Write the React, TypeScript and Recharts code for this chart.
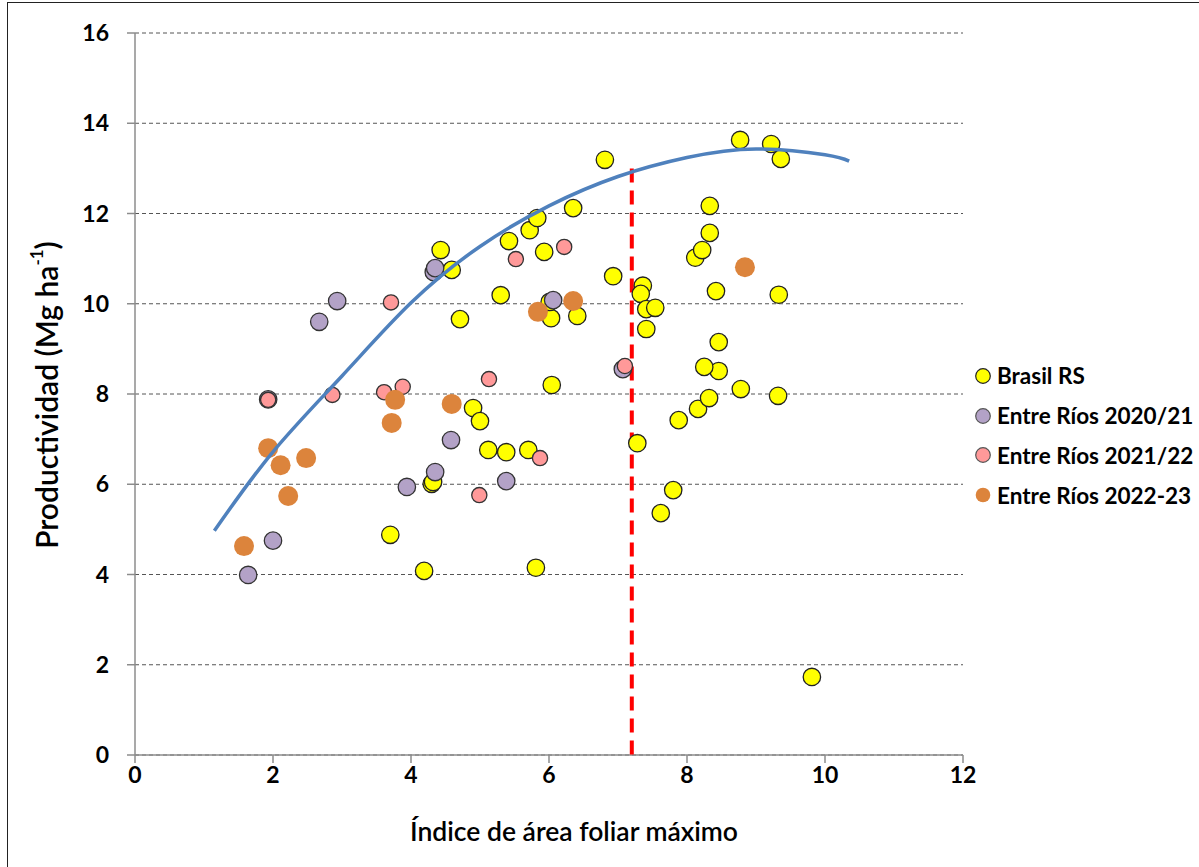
import React from 'react';
import { ScatterChart, Scatter, XAxis, YAxis, CartesianGrid } from 'recharts';

// Brasil RS
const brasilRS = [
  { x: 4.43, y: 11.19 }, { x: 4.59, y: 10.75 }, { x: 4.71, y: 9.66 }, { x: 4.30, y: 6.01 },
  { x: 3.70, y: 4.88 }, { x: 4.19, y: 4.08 }, { x: 4.90, y: 7.69 }, { x: 5.00, y: 7.40 },
  { x: 5.12, y: 6.76 }, { x: 5.38, y: 6.71 }, { x: 5.70, y: 6.76 }, { x: 5.30, y: 10.19 },
  { x: 5.42, y: 11.39 }, { x: 5.72, y: 11.63 }, { x: 5.83, y: 11.90 }, { x: 5.93, y: 11.15 },
  { x: 6.35, y: 12.12 }, { x: 6.03, y: 9.68 }, { x: 6.41, y: 9.73 }, { x: 6.04, y: 8.20 },
  { x: 5.81, y: 4.15 }, { x: 6.81, y: 13.19 }, { x: 6.93, y: 10.61 }, { x: 7.36, y: 10.40 },
  { x: 7.33, y: 10.22 }, { x: 7.41, y: 9.88 }, { x: 7.54, y: 9.91 }, { x: 7.41, y: 9.44 },
  { x: 7.28, y: 6.91 }, { x: 7.80, y: 5.87 }, { x: 7.62, y: 5.36 }, { x: 7.88, y: 7.42 },
  { x: 8.16, y: 7.67 }, { x: 8.32, y: 7.91 }, { x: 8.46, y: 8.51 }, { x: 8.25, y: 8.60 },
  { x: 8.46, y: 9.15 }, { x: 8.42, y: 10.28 }, { x: 8.12, y: 11.02 }, { x: 8.22, y: 11.19 },
  { x: 8.33, y: 11.57 }, { x: 8.33, y: 12.17 }, { x: 8.78, y: 8.11 }, { x: 9.32, y: 7.96 },
  { x: 9.33, y: 10.20 }, { x: 8.77, y: 13.63 }, { x: 9.22, y: 13.54 }, { x: 9.36, y: 13.21 },
  { x: 9.81, y: 1.73 }, { x: 6.01, y: 10.04 }, { x: 4.32, y: 6.05 },
];

// Entre Ríos 2020/21
const entreRios2021 = [
  { x: 1.64, y: 3.99 }, { x: 2.00, y: 4.75 }, { x: 2.67, y: 9.60 }, { x: 2.93, y: 10.06 },
  { x: 1.93, y: 7.88 }, { x: 4.33, y: 10.70 }, { x: 4.35, y: 10.79 }, { x: 4.58, y: 6.98 },
  { x: 4.35, y: 6.27 }, { x: 3.94, y: 5.94 }, { x: 5.38, y: 6.07 }, { x: 6.06, y: 10.08 },
  { x: 7.07, y: 8.55 },
];

// Entre Ríos 2021/22
const entreRios2122 = [
  { x: 3.71, y: 10.03 }, { x: 2.86, y: 7.98 }, { x: 1.93, y: 7.87 }, { x: 3.61, y: 8.04 },
  { x: 3.88, y: 8.16 }, { x: 5.52, y: 10.99 }, { x: 6.22, y: 11.26 }, { x: 5.13, y: 8.33 },
  { x: 4.99, y: 5.76 }, { x: 5.87, y: 6.58 }, { x: 7.10, y: 8.62 },
];

// Entre Ríos 2022-23
const entreRios2223 = [
  { x: 1.58, y: 4.63 }, { x: 1.93, y: 6.80 }, { x: 2.11, y: 6.42 }, { x: 2.48, y: 6.58 },
  { x: 2.22, y: 5.74 }, { x: 3.77, y: 7.87 }, { x: 3.72, y: 7.36 }, { x: 4.59, y: 7.78 },
  { x: 5.84, y: 9.82 }, { x: 6.35, y: 10.06 }, { x: 8.84, y: 10.81 },
];

// trendline
const trendline = [
  { x: 1.15, y: 4.97 }, { x: 2, y: 6.72 }, { x: 3, y: 8.4 }, { x: 4, y: 10.02 },
  { x: 5, y: 11.27 }, { x: 6, y: 12.17 }, { x: 7, y: 12.82 }, { x: 8, y: 13.24 },
  { x: 9, y: 13.43 }, { x: 10, y: 13.3 }, { x: 10.35, y: 13.16 },
];

// threshold
const threshold = [{ x: 7.2, y: 13.0 }, { x: 7.2, y: 0 }];

const xTicks = [0, 2, 4, 6, 8, 10, 12];
const yTicks = [0, 2, 4, 6, 8, 10, 12, 14, 16];

const legendItems = [
  { name: 'Brasil RS', fill: '#ffff00', stroke: '#222' },
  { name: 'Entre Ríos 2020/21', fill: '#b3a2c7', stroke: '#555' },
  { name: 'Entre Ríos 2021/22', fill: '#ff9999', stroke: '#555' },
  { name: 'Entre Ríos 2022-23', fill: '#dc843c', stroke: 'none' },
];

const FONT = 'Lato, "Open Sans", sans-serif';

const dot = (fill: string, stroke: string, r: number) => (props: any) => (
  <circle cx={props.cx} cy={props.cy} r={r} fill={fill} stroke={stroke} strokeWidth={stroke === 'none' ? 0 : 1.3} />
);

const noDot = () => <g />;

const LegendBox = () => (
  <div style={{ position: 'absolute', left: 974, top: 356, fontFamily: FONT, fontWeight: 700, fontSize: 22.5, color: '#000' }}>
    {legendItems.map((it) => (
      <div key={it.name} style={{ display: 'flex', alignItems: 'center', height: 39.8, whiteSpace: 'nowrap' }}>
        <svg width={18} height={18} style={{ marginRight: 5 }}>
          <circle cx={9} cy={9} r={7.3} fill={it.fill} stroke={it.stroke} strokeWidth={it.stroke === 'none' ? 0 : 1.2} />
        </svg>
        <span>{it.name}</span>
      </div>
    ))}
  </div>
);

const YTitle = (props: any) => {
  const vb = props.viewBox;
  const cx = 46;
  const cy = vb.y + vb.height / 2 + 1;
  return (
    <text x={cx} y={cy} transform={`rotate(-90 ${cx} ${cy})`} textAnchor="middle" dominantBaseline="central"
      style={{ fontFamily: FONT, fontSize: 30, fontWeight: 600, fill: '#000' }}>
      Productividad (Mg ha<tspan dy={-10} fontSize={17}>-1</tspan><tspan dy={10}>)</tspan>
    </text>
  );
};

const XTitle = (props: any) => {
  const vb = props.viewBox;
  return (
    <text x={vb.x + vb.width / 2 + 25} y={841} textAnchor="middle"
      style={{ fontFamily: FONT, fontSize: 26.5, fontWeight: 600, fill: '#000' }}>
      Índice de área foliar máximo
    </text>
  );
};

const tickStyle = { fontFamily: FONT, fontSize: 23, fontWeight: 700, fill: '#000' };

export default function App() {
  return (
    <div style={{ position: 'absolute', left: 0, top: 0, width: 1199, height: 867, background: '#fff' }}>
      <div style={{ position: 'absolute', left: 7, top: 2, width: 1192, height: 865, borderLeft: '1.5px solid #222', borderTop: '1.5px solid #222' }} />
      <ScatterChart width={1199} height={867} margin={{ top: 33, right: 236, bottom: 72, left: 75 }}>
        <CartesianGrid horizontal vertical={false} stroke="#555" strokeDasharray="4 3" strokeWidth={1} />
        <XAxis type="number" dataKey="x" domain={[0, 12]} ticks={xTicks} allowDataOverflow
          height={40} stroke="#8c8c8c" strokeWidth={1.5} tickSize={8} tickMargin={4} tick={tickStyle}
          label={<XTitle />} />
        <YAxis type="number" dataKey="y" domain={[0, 16]} ticks={yTicks} allowDataOverflow
          width={60} stroke="#8c8c8c" strokeWidth={1.5} tickSize={8} tickMargin={18} tick={tickStyle}
          label={<YTitle />} />
        <Scatter name="threshold" data={threshold} shape={noDot} legendType="none"
          line={{ stroke: '#ff0000', strokeWidth: 4, strokeDasharray: '14 8' }} isAnimationActive={false} />
        <Scatter name="Brasil RS" data={brasilRS} shape={dot('#ffff00', '#222', 8.7)} isAnimationActive={false} />
        <Scatter name="Entre Ríos 2020/21" data={entreRios2021} shape={dot('#b3a2c7', '#333', 8.7)} isAnimationActive={false} />
        <Scatter name="Entre Ríos 2021/22" data={entreRios2122} shape={dot('#ff9999', '#333', 7.6)} isAnimationActive={false} />
        <Scatter name="Entre Ríos 2022-23" data={entreRios2223} shape={dot('#dc843c', 'none', 10)} isAnimationActive={false} />
        <Scatter name="trend" data={trendline} shape={noDot} legendType="none" lineJointType="natural"
          line={{ stroke: '#4f81bd', strokeWidth: 3.5 }} isAnimationActive={false} />
      </ScatterChart>
      <LegendBox />
    </div>
  );
}
